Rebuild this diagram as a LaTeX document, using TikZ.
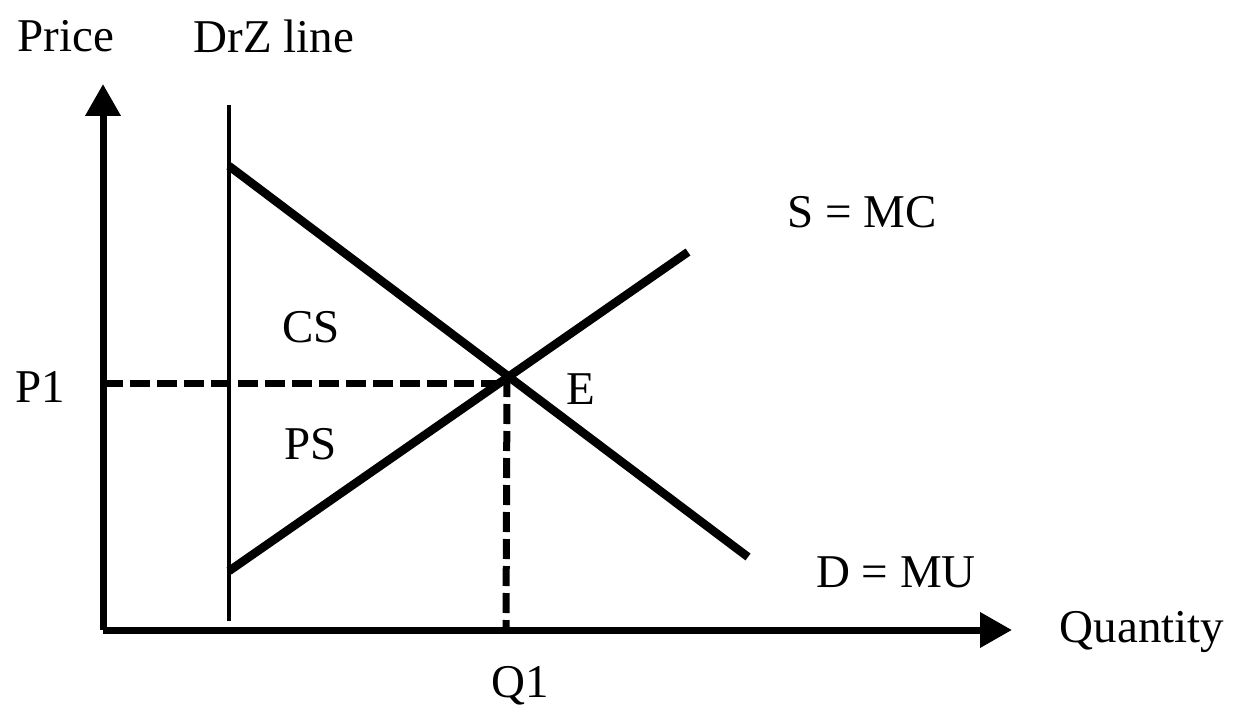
\documentclass[tikz,border=0pt]{standalone}
\usepackage{fontspec}
\setmainfont{Liberation Serif}
\usetikzlibrary{arrows.meta}
\begin{document}
\begin{tikzpicture}[x=1pt,y=-1pt,
  lbl/.style={font=\fontsize{47}{50}\selectfont, inner sep=0pt},
  axis/.style={line width=7pt, -{Triangle[length=32pt,width=34pt]}},
  curve/.style={line width=8.5pt},
  guide/.style={line width=7pt, dash pattern=on 20pt off 7pt},
  drz/.style={line width=3.5pt}]
\useasboundingbox (0,0) rectangle (1247,706);
% coordinates
\coordinate (O) at (103,630);
\coordinate (Ytip) at (103,84);
\coordinate (Xtip) at (1012,630);
\coordinate (Ztop) at (229,105);
\coordinate (Zbot) at (229,621);
\coordinate (Dstart) at (229,166);
\coordinate (Dend) at (748,557);
\coordinate (Sstart) at (229,571);
\coordinate (Send) at (688,252);
\coordinate (E) at (507,377);
\coordinate (P1y) at (103,383);
\coordinate (Q1x) at (506,630);
% axes
\draw[axis] (O) -- (Ytip);
\draw[axis] (O) -- (Xtip);
% DrZ line
\draw[drz] (Ztop) -- (Zbot);
% dashed guides
\draw[guide] (P1y) -- (E |- P1y);
\draw[guide] (E) -- (Q1x);
% curves
\draw[curve] (Dstart) -- (Dend);
\draw[curve] (Sstart) -- (Send);
% labels
\node[lbl] (price) at (66,36) {Price};
\node[lbl] (drzl) at (274,36) {DrZ line};
\node[lbl] (smc) at (862,212) {S = MC};
\node[lbl] (cs) at (311,327) {CS};
\node[lbl] (p1) at (40,387) {P1};
\node[lbl] (el) at (581,389) {E};
\node[lbl] (ps) at (311,444) {PS};
\node[lbl] (dmu) at (896,572) {D = MU};
\node[lbl] (qty) at (1142,632) {Quantity};
\node[lbl] (q1) at (520,686) {Q1};
\end{tikzpicture}
\end{document}
